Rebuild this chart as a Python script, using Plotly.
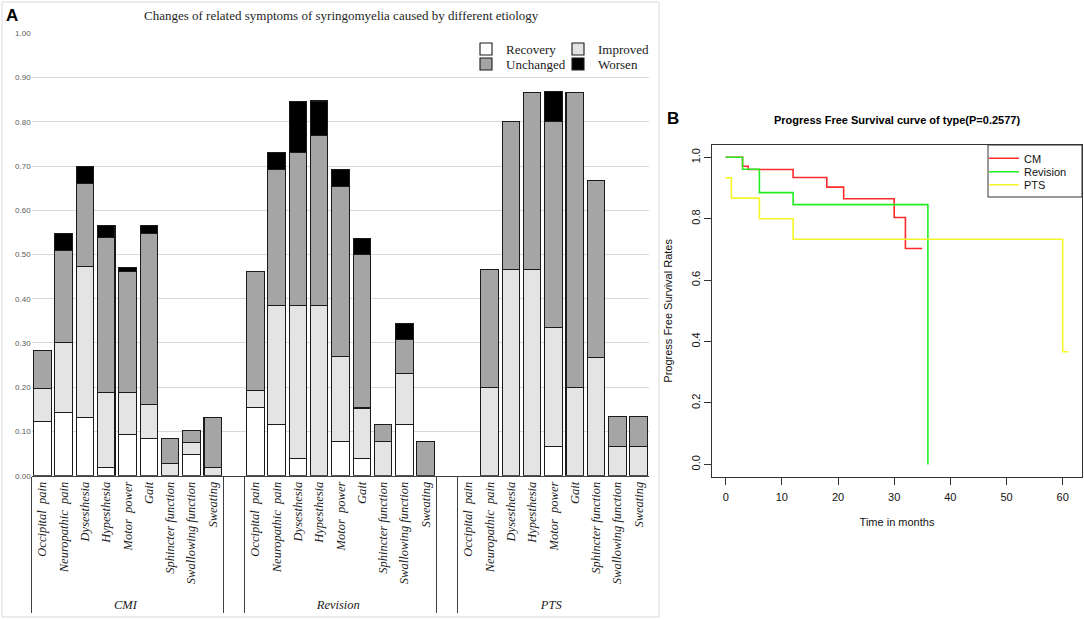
import plotly.graph_objects as go

# ---------------- Panel A data ----------------
groups = ["CMI", "Revision", "PTS"]
symptoms = ["Occipital  pain", "Neuropathic  pain", "Dysesthesia", "Hypesthesia",
            "Motor  power", "Gait", "Sphincter function", "Swallowing function", "Sweating"]
series_names = ["Recovery", "Improved", "Unchanged", "Worsen"]

cmi_recovery = [0.123, 0.142, 0.132, 0.019, 0.094, 0.085, 0.0, 0.047, 0.0]
cmi_improved = [0.075, 0.160, 0.340, 0.170, 0.094, 0.075, 0.028, 0.028, 0.019]
cmi_unchanged = [0.085, 0.207, 0.188, 0.349, 0.274, 0.387, 0.057, 0.028, 0.113]
cmi_worsen = [0.0, 0.038, 0.038, 0.028, 0.009, 0.019, 0.0, 0.0, 0.0]

rev_recovery = [0.154, 0.115, 0.038, 0.0, 0.077, 0.038, 0.0, 0.115, 0.0]
rev_improved = [0.038, 0.269, 0.346, 0.385, 0.192, 0.115, 0.077, 0.115, 0.0]
rev_unchanged = [0.269, 0.308, 0.346, 0.385, 0.385, 0.346, 0.038, 0.077, 0.077]
rev_worsen = [0.0, 0.038, 0.115, 0.077, 0.038, 0.038, 0.0, 0.038, 0.0]

pts_recovery = [0.0, 0.0, 0.0, 0.0, 0.067, 0.0, 0.0, 0.0, 0.0]
pts_improved = [0.0, 0.200, 0.467, 0.467, 0.267, 0.200, 0.267, 0.067, 0.067]
pts_unchanged = [0.0, 0.267, 0.333, 0.400, 0.467, 0.667, 0.400, 0.067, 0.067]
pts_worsen = [0.0, 0.0, 0.0, 0.0, 0.067, 0.0, 0.0, 0.0, 0.0]

series_colors = ["#FFFFFF", "#E4E4E4", "#A5A5A5", "#000000"]
series_legend = ["legend", "legend", "legend2", "legend2"]

# ---------------- Panel B data ----------------
cm_time = [0, 3, 4, 12, 18, 21, 30, 32, 35]
cm_surv = [1.0, 0.971, 0.960, 0.934, 0.903, 0.865, 0.804, 0.703, 0.703]
revision_time = [0, 3, 6, 12, 36]
revision_surv = [1.0, 0.961, 0.885, 0.846, 0.0]
pts_time = [0, 1, 6, 12, 60, 61]
pts_surv = [0.933, 0.867, 0.800, 0.733, 0.367, 0.367]

W, H = 1084, 620


def px_x(p):
    return p / W


def px_y(p):
    return 1 - p / H


# build multicategory x (with a blank slot between groups)
grp_level, sym_level = [], []
for gi, g in enumerate(groups):
    for s in symptoms:
        grp_level.append(g)
        sym_level.append(s)
    if gi < len(groups) - 1:
        grp_level.append(" " * (gi + 1))
        sym_level.append(" ")

by_series = {
    "Recovery": [cmi_recovery, rev_recovery, pts_recovery],
    "Improved": [cmi_improved, rev_improved, pts_improved],
    "Unchanged": [cmi_unchanged, rev_unchanged, pts_unchanged],
    "Worsen": [cmi_worsen, rev_worsen, pts_worsen],
}

fig = go.Figure()
for name, color, leg in zip(series_names, series_colors, series_legend):
    vals = []
    for gi, arr in enumerate(by_series[name]):
        vals += [v if v > 0 else None for v in arr]
        if gi < len(groups) - 1:
            vals.append(None)
    fig.add_trace(go.Bar(
        x=[grp_level, sym_level], y=vals, name=name,
        marker=dict(color=color, line=dict(color="#1a1a1a", width=1.1)),
        xaxis="x", yaxis="y", legend=leg, hoverinfo="skip"))

surv_legends = ["legend3", "legend4", "legend5"]
for (t, s, nm, col), lg in zip([(cm_time, cm_surv, "CM", "#FF2A2A"),
                                (revision_time, revision_surv, "Revision", "#22EE22"),
                                (pts_time, pts_surv, "PTS", "#F5F52A")], surv_legends):
    fig.add_trace(go.Scatter(x=t, y=s, name=nm, mode="lines", line_shape="hv",
                             line=dict(color=col, width=1.6),
                             xaxis="x2", yaxis="y2", legend=lg, hoverinfo="skip"))

serif = "Liberation Serif"
sans = "Liberation Sans"

legA_common = dict(orientation="h", xanchor="left", yanchor="middle",
                   bgcolor="rgba(255,255,255,0)", traceorder="normal",
                   font=dict(family=serif, size=13, color="#1a1a1a"),
                   itemwidth=30, entrywidthmode="pixels", entrywidth=47)
legB_common = dict(xanchor="left", yanchor="middle", bgcolor="rgba(255,255,255,0)",
                   font=dict(family=sans, size=11, color="#111"), itemwidth=30)

fig.update_layout(
    width=W, height=H, margin=dict(l=0, r=0, t=0, b=0, autoexpand=False),
    paper_bgcolor="white", plot_bgcolor="white",
    barmode="stack", bargap=0.18, showlegend=True,
    xaxis=dict(domain=[px_x(31.7), px_x(649.3)], type="multicategory", automargin=False,
               tickangle=-90, showline=True, linecolor="#404040", linewidth=1,
               showdividers=True, dividercolor="#404040", dividerwidth=1,
               ticks="", showgrid=False,
               tickfont=dict(family=serif, size=12.5, color="#1a1a1a", style="italic"),
               anchor="y"),
    yaxis=dict(domain=[px_y(475.7), px_y(33.3)], range=[0, 1.0], dtick=0.1, automargin=False,
               tickformat=".2f", showgrid=True, gridcolor="#D9D9D9", gridwidth=1,
               zeroline=False, showline=False,
               tickfont=dict(family=sans, size=8, color="#595959"), anchor="x"),
    xaxis2=dict(domain=[px_x(712), px_x(1082)], range=[-2.44, 63.44], automargin=False,
                tickvals=[0, 10, 20, 30, 40, 50, 60], ticks="outside", ticklen=7,
                tickcolor="#333", showline=True, mirror=True, linecolor="#333",
                showgrid=False, zeroline=False, ticklabelstandoff=3,
                tickfont=dict(family=sans, size=11, color="#111"),
                title=dict(text="Time in months", font=dict(family=sans, size=11, color="#111"),
                           standoff=16),
                anchor="y2"),
    yaxis2=dict(domain=[px_y(476.7), px_y(145)], range=[-0.04, 1.04], automargin=False,
                tickvals=[0, 0.2, 0.4, 0.6, 0.8, 1.0],
                ticktext=["0.0", "0.2", "0.4", "0.6", "0.8", "1.0"],
                tickangle=-90, ticks="outside", ticklen=7, tickcolor="#333",
                showline=True, mirror=True, linecolor="#333",
                showgrid=False, zeroline=False,
                tickfont=dict(family=sans, size=11, color="#111"),
                title=dict(text="Progress Free Survival Rates",
                           font=dict(family=sans, size=11, color="#111"), standoff=14),
                anchor="x2"),
    legend=dict(x=px_x(466), y=px_y(49), **legA_common),
    legend2=dict(x=px_x(466), y=px_y(64), **legA_common),
    legend3=dict(x=px_x(984), y=px_y(158.3), **legB_common),
    legend4=dict(x=px_x(984), y=px_y(171.7), **legB_common),
    legend5=dict(x=px_x(984), y=px_y(184.7), **legB_common),
)

fig.add_shape(type="rect", xref="paper", yref="paper",
              x0=px_x(2), x1=px_x(659), y0=px_y(617), y1=px_y(2),
              line=dict(color="#D9D9D9", width=1), layer="below")
fig.add_shape(type="rect", xref="paper", yref="paper",
              x0=px_x(988), x1=px_x(1082), y0=px_y(197), y1=px_y(145),
              line=dict(color="#333", width=1), fillcolor="white", layer="above")

fig.add_annotation(text="A", xref="paper", yref="paper", x=px_x(4), y=px_y(4),
                   xanchor="left", yanchor="top", showarrow=False,
                   font=dict(family=sans, size=17, color="black", weight="bold"))
fig.add_annotation(text="B", xref="paper", yref="paper", x=px_x(665), y=px_y(107),
                   xanchor="left", yanchor="top", showarrow=False,
                   font=dict(family=sans, size=17, color="black", weight="bold"))
fig.add_annotation(text="Changes of related symptoms of syringomyelia caused by different etiology",
                   xref="paper", yref="paper", x=px_x(341), y=px_y(16),
                   xanchor="center", yanchor="middle", showarrow=False,
                   font=dict(family=serif, size=13, color="#262626"))
fig.add_annotation(text="Progress Free Survival curve of type(P=0.2577)",
                   xref="paper", yref="paper", x=px_x(897), y=px_y(120),
                   xanchor="center", yanchor="middle", showarrow=False,
                   font=dict(family=sans, size=11, color="black", weight="bold"))

fig.write_html("out.html", config={"displayModeBar": False},
               post_script="document.body.style.margin='0px';document.body.style.overflow='hidden';")
